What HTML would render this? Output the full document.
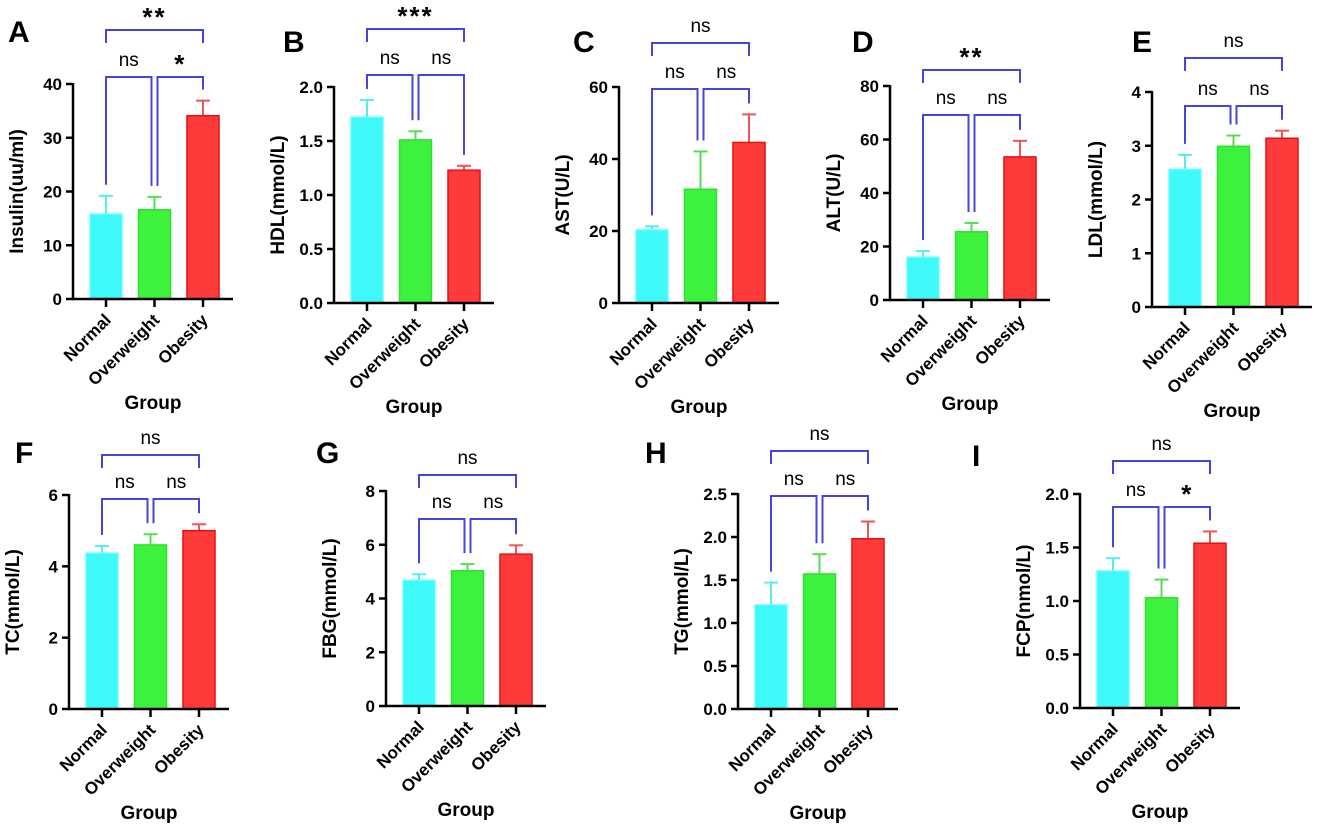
<!DOCTYPE html>
<html><head><meta charset="utf-8">
<style>
html,body{margin:0;padding:0;background:#fff;}
svg{display:block;font-family:"Liberation Sans",Arial,sans-serif;}
</style></head>
<body>
<svg id="chart" width="1325" height="836" viewBox="0 0 1325 836" xmlns="http://www.w3.org/2000/svg"></svg>
<script>
const categories = ["Normal","Overweight","Obesity"];
const insulinMeans = [15.8, 16.6, 34.1];
const insulinErrs = [3.4, 2.4, 2.8];
const hdlMeans = [1.72, 1.51, 1.23];
const hdlErrs = [0.16, 0.08, 0.04];
const astMeans = [20.3, 31.6, 44.6];
const astErrs = [1.0, 10.5, 7.8];
const altMeans = [16.0, 25.5, 53.5];
const altErrs = [2.3, 3.3, 6.0];
const ldlMeans = [2.56, 2.99, 3.14];
const ldlErrs = [0.27, 0.2, 0.14];
const tcMeans = [4.37, 4.6, 5.0];
const tcErrs = [0.2, 0.3, 0.18];
const fbgMeans = [4.68, 5.03, 5.65];
const fbgErrs = [0.22, 0.25, 0.33];
const tgMeans = [1.21, 1.57, 1.98];
const tgErrs = [0.26, 0.23, 0.2];
const fcpMeans = [1.28, 1.03, 1.54];
const fcpErrs = [0.12, 0.17, 0.11];
const insulinTicks = ["0","10","20","30","40"];
const hdlTicks = ["0.0","0.5","1.0","1.5","2.0"];
const astTicks = ["0","20","40","60"];
const altTicks = ["0","20","40","60","80"];
const ldlTicks = ["0","1","2","3","4"];
const tcTicks = ["0","2","4","6"];
const fbgTicks = ["0","2","4","6","8"];
const tgTicks = ["0.0","0.5","1.0","1.5","2.0","2.5"];
const fcpTicks = ["0.0","0.5","1.0","1.5","2.0"];
const insulinSig = ["**","ns","*"];
const hdlSig = ["***","ns","ns"];
const astSig = ["ns","ns","ns"];
const altSig = ["**","ns","ns"];
const ldlSig = ["ns","ns","ns"];
const tcSig = ["ns","ns","ns"];
const fbgSig = ["ns","ns","ns"];
const tgSig = ["ns","ns","ns"];
const fcpSig = ["ns","ns","*"];

const panels = [
 {id:"A",label:"Insulin(uu/ml)",means:insulinMeans,errs:insulinErrs,ticks:insulinTicks,sig:insulinSig,ax:73,y0:299,yTop:84,topB:30,lowB:77,lx:8,ly:42},
 {id:"B",label:"HDL(mmol/L)",means:hdlMeans,errs:hdlErrs,ticks:hdlTicks,sig:hdlSig,ax:334,y0:303,yTop:87,topB:29,lowB:75,lx:283,ly:52},
 {id:"C",label:"AST(U/L)",means:astMeans,errs:astErrs,ticks:astTicks,sig:astSig,ax:619,y0:303,yTop:87,topB:43,lowB:89,lx:573,ly:52},
 {id:"D",label:"ALT(U/L)",means:altMeans,errs:altErrs,ticks:altTicks,sig:altSig,ax:890,y0:300,yTop:86,topB:70,lowB:115,lx:852,ly:52},
 {id:"E",label:"LDL(mmol/L)",means:ldlMeans,errs:ldlErrs,ticks:ldlTicks,sig:ldlSig,ax:1152,y0:307,yTop:92,topB:58,lowB:106,lx:1132,ly:52},
 {id:"F",label:"TC(mmol/L)",means:tcMeans,errs:tcErrs,ticks:tcTicks,sig:tcSig,ax:69,y0:709,yTop:495,topB:455,lowB:499,lx:15,ly:463},
 {id:"G",label:"FBG(mmol/L)",means:fbgMeans,errs:fbgErrs,ticks:fbgTicks,sig:fbgSig,ax:386,y0:706,yTop:491,topB:475,lowB:519,lx:316,ly:463},
 {id:"H",label:"TG(mmol/L)",means:tgMeans,errs:tgErrs,ticks:tgTicks,sig:tgSig,ax:738,y0:709,yTop:494,topB:451,lowB:496,lx:645,ly:463},
 {id:"I",label:"FCP(nmol/L)",means:fcpMeans,errs:fcpErrs,ticks:fcpTicks,sig:fcpSig,ax:1080,y0:708,yTop:494,topB:461,lowB:507,lx:972,ly:466}
];
const fills=["#3ff8f8","#3cf23c","#ff3a3a"];
const strokes=["#6ff","#2de02d","#e81010"];
const errCols=["#5ee","#5d5","#e55"];
const svg=document.getElementById('chart');
const NS="http://www.w3.org/2000/svg";
function mk(tag,attrs,parent){const e=document.createElementNS(NS,tag);for(const k in attrs)e.setAttribute(k,attrs[k]);(parent||svg).appendChild(e);return e;}

panels.forEach(p=>{
  const g=mk('g',{});
  
  
  const vmax=parseFloat(p.ticks[p.ticks.length-1]);
  const yS=v=>p.y0-(v/vmax)*(p.y0-p.yTop);
  const xC=i=>p.ax+33+i*48.5;
  const L=mk('text',{x:p.lx,y:p.ly,'font-size':30,'font-weight':'bold',fill:'#000'},g);L.textContent=p.id;
  
  
  p.means.forEach((m,i)=>{
    const top=yS(m), et=yS(m+p.errs[i]);
    const eb=mk('line',{x1:xC(i),x2:xC(i),y1:top,y2:et,stroke:errCols[i],'stroke-width':2},g);
    
    
    mk('line',{x1:xC(i)-7,x2:xC(i)+7,y1:et,y2:et,stroke:errCols[i],'stroke-width':2},g);
    const r=mk('rect',{x:xC(i)-16,y:top,width:32,height:p.y0-top,fill:fills[i],stroke:strokes[i],'stroke-width':1.5},g);
    
    
  });
  const ya=mk('line',{x1:p.ax,x2:p.ax,y1:p.yTop-1,y2:p.y0+1,stroke:'#000','stroke-width':2.5},g);
  
  
  const xa=mk('line',{x1:p.ax-1,x2:p.ax+160,y1:p.y0,y2:p.y0,stroke:'#000','stroke-width':2.5},g);
  
  
  p.ticks.forEach(t=>{
    const y=yS(parseFloat(t));
    mk('line',{x1:p.ax-7,x2:p.ax,y1:y,y2:y,stroke:'#000','stroke-width':2.5},g);
    const tx=mk('text',{x:p.ax-11,y:y+6,'font-size':17,'font-weight':'bold','text-anchor':'end'},g);tx.textContent=t;
    
    
  });
  categories.forEach((c,i)=>{
    mk('line',{x1:xC(i),x2:xC(i),y1:p.y0,y2:p.y0+8,stroke:'#000','stroke-width':2.5},g);
    const t=mk('text',{x:0,y:0,'font-size':17,'font-weight':'bold','text-anchor':'end',transform:`translate(${xC(i)+6},${p.y0+22}) rotate(-45)`},g);t.textContent=c;
    
    
  });
  const yl=mk('text',{x:0,y:0,'font-size':19,'font-weight':'bold','text-anchor':'middle',transform:`translate(${p.ax-50},${(p.y0+p.yTop)/2}) rotate(-90)`},g);yl.textContent=p.label;
  
  
  const xl=mk('text',{x:p.ax+80,y:p.y0+110,'font-size':19,'font-weight':'bold','text-anchor':'middle'},g);xl.textContent="Group";
  
  
  const et=i=>yS(p.means[i]+p.errs[i])-11;
  const br=(x1,x2,yb,d1,d2,lab)=>{
    const pl=mk('polyline',{points:`${x1},${d1} ${x1},${yb} ${x2},${yb} ${x2},${d2}`,fill:'none',stroke:'#4545dd','stroke-width':2},g);
    
    
    const star=lab.indexOf('*')>=0;
    const t=mk('text',{x:(x1+x2)/2,y:star?yb-4:yb-11,'font-size':star?26:19,'font-weight':star?'bold':'normal','text-anchor':'middle','letter-spacing':star?2:0},g);t.textContent=lab;
    
    
  };
  br(xC(0),xC(2),p.topB,p.topB+13,p.topB+13,p.sig[0]);
  br(xC(0),xC(1)-3,p.lowB,et(0),et(1),p.sig[1]);
  br(xC(1)+3,xC(2),p.lowB,et(1),et(2),p.sig[2]);
});
</script>
</body></html>
